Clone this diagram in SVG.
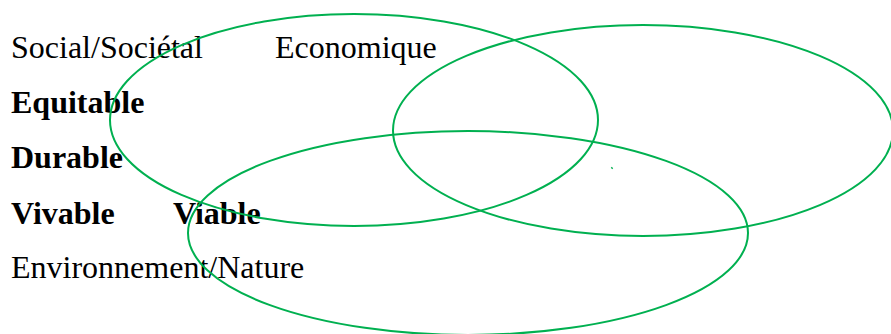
<svg xmlns="http://www.w3.org/2000/svg" width="891" height="334" viewBox="0 0 891 334">
<style>
.t{font-family:"Liberation Serif","Times New Roman",serif;font-size:32px;fill:#000}
.b{font-weight:bold}
.e{fill:none;stroke:#00B050;stroke-width:2}
</style>
<rect width="891" height="334" fill="#fff"/>
<g id="labels">
<text class="t" x="11" y="58">Social/Sociétal</text>
<text class="t" x="275" y="58">Economique</text>
<text class="t b" x="11" y="113">Equitable</text>
<text class="t b" x="11" y="168">Durable</text>
<text class="t b" x="11" y="224">Vivable</text>
<text class="t b" x="173" y="224">Viable</text>
<text class="t" x="11" y="278">Environnement/Nature</text>
</g>
<g id="social"><ellipse class="e" cx="354" cy="120" rx="244" ry="106"/></g>
<g id="economique"><ellipse class="e" cx="643" cy="130.5" rx="250" ry="105.5"/></g>
<g id="environnement"><ellipse class="e" cx="468" cy="233" rx="280" ry="102"/></g>
<g id="connectors"><line class="e" x1="611.5" y1="168.5" x2="612.5" y2="167.5"/></g>
</svg>
